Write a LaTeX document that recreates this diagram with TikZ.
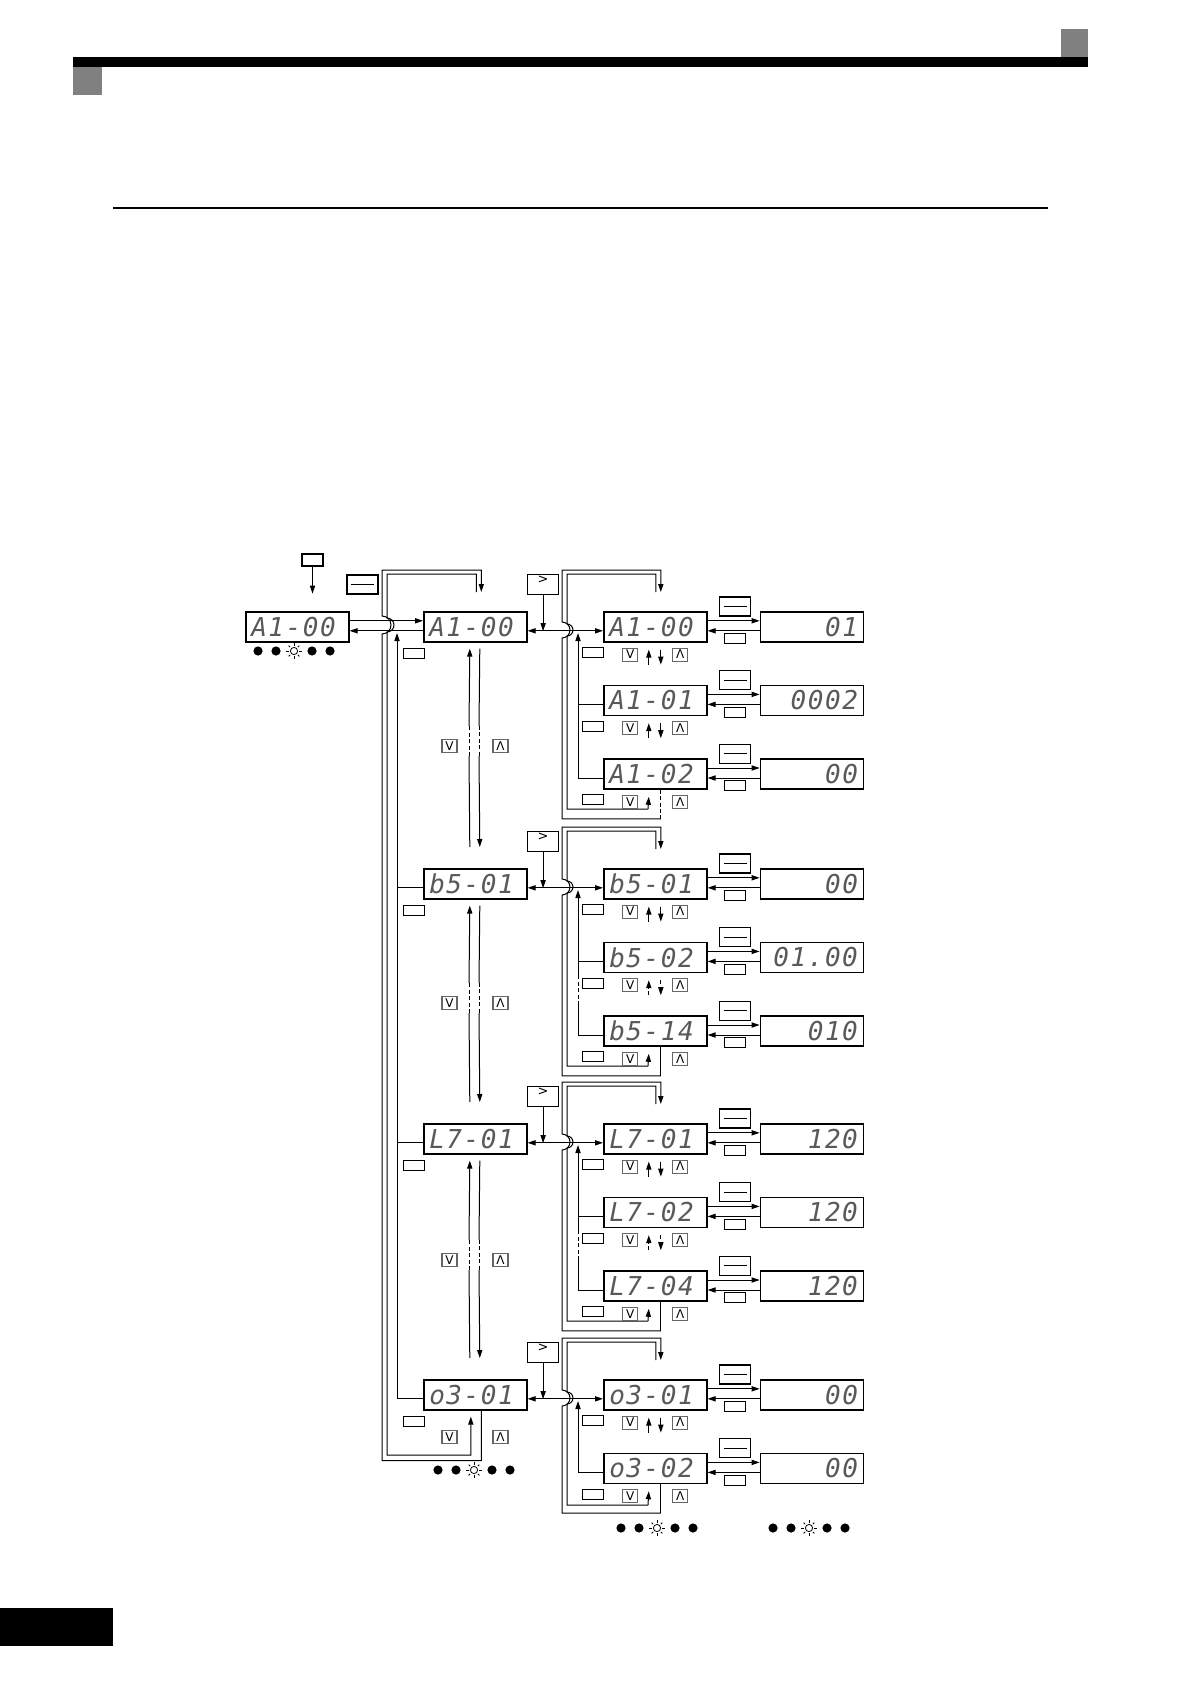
\documentclass[tikz,border=0pt]{standalone}
\usepackage{fontspec}
\newfontfamily\segfont{DejaVu Sans Mono}[LetterSpace=6]
\newfontfamily\keyfont{DejaVu Sans}
\usepackage{tikz}
\usetikzlibrary{positioning, arrows.meta, calc}

\newcommand{\sunled}[2]{%
  \draw[line width=0.4pt] (#1,#2) circle[radius=1.8pt];
  \foreach \ang in {0,45,...,315}
    \draw[line width=0.4pt] ($(#1,#2)+(\ang:2.7pt)$) -- ($(#1,#2)+(\ang:3.8pt)$);
}
\newcommand{\ledrow}[2]{%
  \foreach \dx in {0,18,54,72}
    \fill (#1+\dx,#2) circle[radius=2.3pt];
  \sunled{#1+36}{#2}
}

\begin{document}
\begin{tikzpicture}[
    x=0.5pt, y=-0.5pt,
    line width=0.5pt,
    disp/.style={
        rectangle,
        draw,
        line width=0.8pt,
        anchor=north west,
        minimum height=15pt,
        text width=46pt,
        inner xsep=2.75pt,
        inner ysep=0pt,
        align=left,
        text=black!65,
        font=\segfont\itshape\fontsize{13}{13}\selectfont
    },
    value/.style={disp, align=right},
    keyline/.style={
        rectangle, draw, line width=0.6pt,
        minimum width=15.5pt, minimum height=9.5pt, inner sep=0pt,
        path picture={\draw[line width=0.6pt]
            ([xshift=2pt]path picture bounding box.west) --
            ([xshift=-2pt]path picture bounding box.east);}
    },
    keyblank/.style={rectangle, draw, line width=0.6pt,
        minimum width=10.5pt, minimum height=5pt, inner sep=0pt},
    keyarrow/.style={rectangle, draw=black!60, line width=0.6pt,
        minimum width=7.5pt, minimum height=6.5pt, inner sep=0pt,
        font=\keyfont\fontsize{6}{6}\selectfont},
    keynext/.style={rectangle, draw, line width=0.6pt,
        minimum width=15.5pt, minimum height=10pt, inner sep=0pt,
        label={[anchor=north, inner sep=0.8pt,
                font=\keyfont\fontsize{6.5}{6.5}\selectfont]north:{>}}},
    brk/.style={dash pattern=on 2pt off 1.2pt},
    arr/.style={-{Triangle[length=4pt, width=2.6pt]}},
    arrb/.style={{Triangle[length=4pt, width=2.6pt]}-{Triangle[length=4pt, width=2.6pt]}}
]
\useasboundingbox (0,0) rectangle (1190,1684);

% page frame
\fill (73,57) rectangle (1088,67);
\fill[black!50] (1061,29) rectangle (1088,57);
\fill[black!50] (73,67) rectangle (102,95);
\draw[line width=1pt] (113,208) -- (1048,208);
\fill (0,1608) rectangle (113,1646);

% displays
\node[disp] (start) at (245,611) {A1-00};
\node[disp] (gA) at (423,611) {A1-00};
\node[disp] (gB) at (423,868) {b5-01};
\node[disp] (gL) at (423,1123) {L7-01};
\node[disp] (gO) at (423,1379) {o3-01};

\node[disp] (pA0) at (603,611) {A1-00};
\node[disp, below=21pt of pA0] (pA1) {A1-01};
\node[disp, below=21pt of pA1] (pA2) {A1-02};
\node[disp] (pB1) at (603,868) {b5-01};
\node[disp, below=21pt of pB1] (pB2) {b5-02};
\node[disp, below=21pt of pB2] (pB3) {b5-14};
\node[disp] (pL1) at (603,1123) {L7-01};
\node[disp, below=21pt of pL1] (pL2) {L7-02};
\node[disp, below=21pt of pL2] (pL3) {L7-04};
\node[disp] (pO1) at (603,1379) {o3-01};
\node[disp, below=21pt of pO1] (pO2) {o3-02};

\node[value, right=26pt of pA0] (vA0) {01};
\node[value, right=26pt of pA1] (vA1) {0002};
\node[value, right=26pt of pA2] (vA2) {00};
\node[value, right=26pt of pB1] (vB1) {00};
\node[value, right=26pt of pB2] (vB2) {01.00};
\node[value, right=26pt of pB3] (vB3) {010};
\node[value, right=26pt of pL1] (vL1) {120};
\node[value, right=26pt of pL2] (vL2) {120};
\node[value, right=26pt of pL3] (vL3) {120};
\node[value, right=26pt of pO1] (vO1) {00};
\node[value, right=26pt of pO2] (vO2) {00};

% first display
\node[keyblank, minimum height=6pt] (pwr) at (312.5,560) {};
\draw[arr] (pwr.south) -- ++(0,27);
\node[keyline] (menu) at (362.5,584.5) {};
\draw[arr] ([yshift=3pt]start.east) -- ([yshift=3pt]gA.west);
\draw[arr] ([yshift=-2pt]gA.west) -- ([yshift=-2pt]start.east);

% big loop round the groups
\draw[arr] ([xshift=3pt]gO.south) -- ++(0,50) -| (382,634)
    arc[start angle=-90, end angle=90, radius=4.5pt] -- (382,570)
    -| ([xshift=3pt,yshift=9.5pt]gA.north);
\draw[arr] ([xshift=0.5pt,yshift=9.5pt]gA.north) -- ++(0,-18) -| (387,618)
    arc[start angle=90, end angle=-90, radius=3.5pt] -- (387,1455)
    -| ([xshift=-2.25pt,yshift=-3pt]gO.south);

% return line
\draw[arr] ([yshift=-2pt]gO.west) -| (397,633);
\draw ([yshift=-2pt]gB.west) -- ++(-26,0);
\draw ([yshift=-2pt]gL.west) -- ++(-26,0);

\foreach \gg in {gA,gB,gL,gO}
    \node[keyblank] (esc\gg) at ([xshift=-30.5pt,yshift=-5.5pt]\gg.south) {};

% up / down between groups
\foreach \ua/\lb/\km in {gA/gB/746, gB/gL/1003, gL/gO/1260}{
    \draw ([xshift=-2.75pt,yshift=10.5pt]\lb.north) -- (469,\km+10);
    \draw[brk] (469,\km+10) -- (469,\km-20);
    \draw[arr] (469,\km-20) -- ([xshift=-2.75pt,yshift=-3pt]\ua.south);
    \draw ([xshift=2.25pt,yshift=-3pt]\ua.south) -- (479,\km-20);
    \draw[brk] (479,\km-20) -- (479,\km+10);
    \draw[arr] (479,\km+10) -- ([xshift=2.25pt,yshift=10.5pt]\lb.north);
    \node[keyarrow] (dn\lb) at (449.5,\km) {V};
    \node[keyarrow] (up\lb) at (500.5,\km) {Λ};
}
\node[keyarrow] (dnO) at (449.5,1437) {V};
\node[keyarrow] (upO) at (500.5,1437) {Λ};

% group to parameter
\foreach \gg/\pp in {gA/pA0, gB/pB1, gL/pL1, gO/pO1}{
    \draw[arrb] ([yshift=-2pt]\gg.east) -- ([yshift=-2pt]\pp.west);
    \node[keynext] (nx\gg) at ([xshift=7.75pt,yshift=13.25pt]\gg.north east) {};
    \draw[arr] (nx\gg.south) -- ++(0,36);
}

% loops round the parameters
\foreach \fst/\lst/\tp/\bt/\ss in {pA0/pA2/611/785/brk, pB1/pB3/868/1042/solid,
                                  pL1/pL3/1123/1297/solid, pO1/pO2/1379/1481/solid}{
    \draw[\ss] ([xshift=2.75pt]\lst.south) -- ++(0,29);
    \draw[arr] ([xshift=2.75pt]\lst.south) ++(0,29) -| (562,\tp+27)
        arc[start angle=-90, end angle=90, radius=4pt] -- (562,\tp-41)
        -| ([xshift=2.75pt,yshift=9.5pt]\fst.north);
    \draw ([xshift=0.25pt,yshift=9.5pt]\fst.north) -- ++(0,-18) -| (567,\tp+13)
        arc[start angle=90, end angle=-90, radius=3pt] -- (567,\bt+24) -- (648,\bt+24);
    \draw[arr,\ss] (648,\bt+24) -- ([xshift=-3.25pt,yshift=-3.5pt]\lst.south);
}

% returns to the first parameter
\draw[arr] ([yshift=-2pt]pA2.west) -| (578,633);
\draw ([yshift=-2pt]pA1.west) -- ++(-25,0);
\draw ([yshift=-2pt]pB3.west) -| (578,1005);
\draw[brk] (578,1005) -- (578,977);
\draw[arr] (578,977) -- (578,890);
\draw ([yshift=-2pt]pB2.west) -- ++(-25,0);
\draw ([yshift=-2pt]pL3.west) -| (578,1260);
\draw[brk] (578,1260) -- (578,1232);
\draw[arr] (578,1232) -- (578,1145);
\draw ([yshift=-2pt]pL2.west) -- ++(-25,0);
\draw[arr] ([yshift=-2pt]pO2.west) -| (578,1401);

% up / down between parameters
\foreach \pp/\ss in {pA0/solid, pA1/solid, pB1/solid, pB2/brk, pL1/solid, pL2/brk, pO1/solid}{
    \draw[arr,\ss] ([xshift=-3.25pt,yshift=-11pt]\pp.south) -- ++(0,-15);
    \draw[arr,\ss] ([xshift=2.75pt,yshift=-3.5pt]\pp.south) -- ++(0,15);
}
\foreach \pp in {pA0,pA1,pA2,pB1,pB2,pB3,pL1,pL2,pL3,pO1,pO2}{
    \node[keyblank] (esc\pp) at ([xshift=-31pt,yshift=-5pt]\pp.south) {};
    \node[keyarrow] (dn\pp) at ([xshift=-12.5pt,yshift=-6pt]\pp.south) {V};
    \node[keyarrow] (up\pp) at ([xshift=12.5pt,yshift=-6pt]\pp.south) {Λ};
}

% parameter to value
\foreach \pp/\vv in {pA0/vA0, pA1/vA1, pA2/vA2, pB1/vB1, pB2/vB2, pB3/vB3,
                     pL1/vL1, pL2/vL2, pL3/vL3, pO1/vO1, pO2/vO2}{
    \draw[arr] ([yshift=3pt]\pp.east) -- ([yshift=3pt]\vv.west);
    \draw[arr] ([yshift=-2pt]\vv.west) -- ([yshift=-2pt]\pp.east);
    \node[keyline] (ent\pp) at ([xshift=13.75pt,yshift=2.25pt]\pp.north east) {};
    \node[keyblank] (ret\pp) at ([xshift=13.75pt,yshift=-13.75pt]\pp.north east) {};
}

% LEDs
\ledrow{258}{651}
\ledrow{438}{1470}
\ledrow{621}{1528}
\ledrow{773}{1528}
\end{tikzpicture}
\end{document}
